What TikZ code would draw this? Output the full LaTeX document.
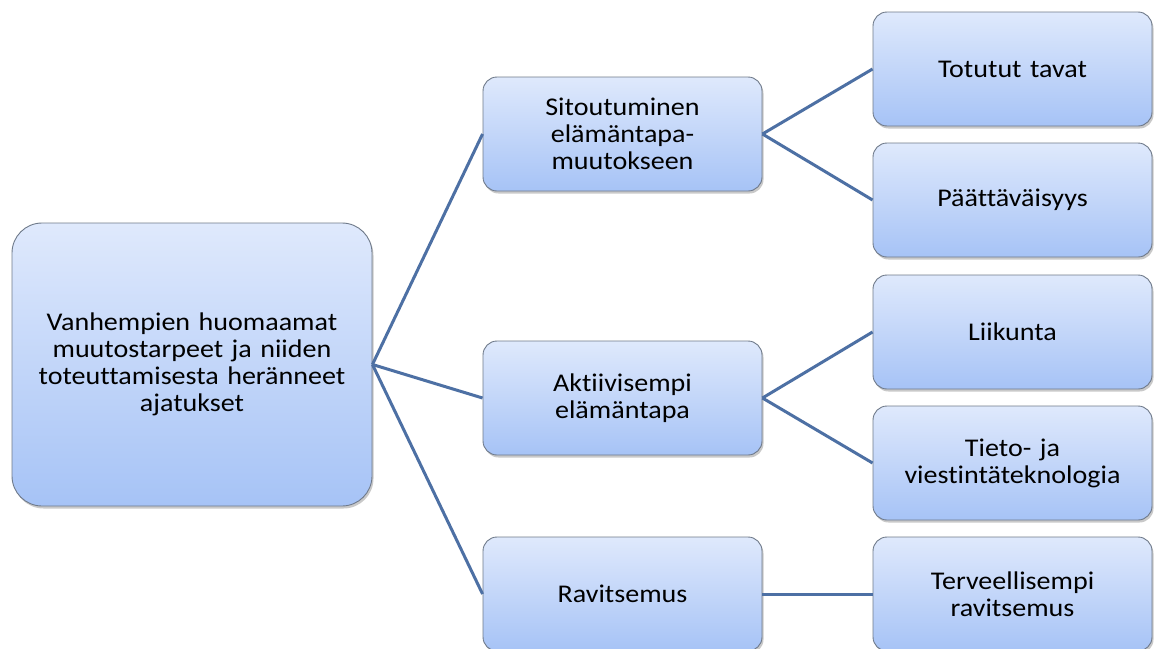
\documentclass[tikz,border=0pt]{standalone}
\usepackage{fontspec}
\setmainfont{Carlito}[FakeStretch=1.1, Ligatures=NoCommon]
\usetikzlibrary{shadows}
\definecolor{boxtop}{HTML}{DFE9FC}
\definecolor{boxbot}{HTML}{A6C3F6}
\definecolor{boxborder}{HTML}{6F7A8A}
\definecolor{linkcol}{HTML}{4D70A4}
\begin{document}
\begin{tikzpicture}[x=1pt,y=-1pt,
  box/.style={draw=boxborder, line width=0.9pt, rounded corners=14pt,
    top color=boxtop, bottom color=boxbot,
    minimum width=279pt, minimum height=114pt, inner sep=0pt,
    align=center, text width=268pt,
    font=\fontsize{25.5}{27}\selectfont,
    drop shadow={shadow xshift=1.5pt, shadow yshift=-2.5pt, opacity=0.35, fill=black!60}},
  link/.style={draw=linkcol, line width=3pt}]
\useasboundingbox (0,0) rectangle (1155,648);
\clip (0,0) rectangle (1155,648);
\fill[white] (0,0) rectangle (1155,648);
\node[box, minimum width=360pt, minimum height=283pt, text width=348pt, rounded corners=30pt] (root) at (192,364.5)
  {Vanhempien huomaamat\\muutostarpeet ja niiden\\toteuttamisesta heränneet\\ajatukset};
\node[box] (m1) at (622.5,134) {Sitoutuminen\\elämäntapa-\\muutokseen};
\node[box] (m2) at (622.5,398) {Aktiivisempi\\elämäntapa};
\node[box] (m3) at (622.5,594) {Ravitsemus};
\node[box] (r1) at (1012.5,69) {Totutut tavat};
\node[box] (r2) at (1012.5,200) {Päättäväisyys};
\node[box] (r3) at (1012.5,332) {Liikunta};
\node[box] (r4) at (1012.5,463) {Tieto- ja\\viestintäteknologia};
\node[box] (r5) at (1012.5,594) {Terveellisempi\\ravitsemus};
\draw[link] (root.east) -- (m1.west);
\draw[link] (root.east) -- (m2.west);
\draw[link] (root.east) -- (m3.west);
\draw[link] (m1.east) -- (r1.west);
\draw[link] (m1.east) -- (r2.west);
\draw[link] (m2.east) -- (r3.west);
\draw[link] (m2.east) -- (r4.west);
\draw[link] (m3.east) -- (r5.west);
\end{tikzpicture}
\end{document}
